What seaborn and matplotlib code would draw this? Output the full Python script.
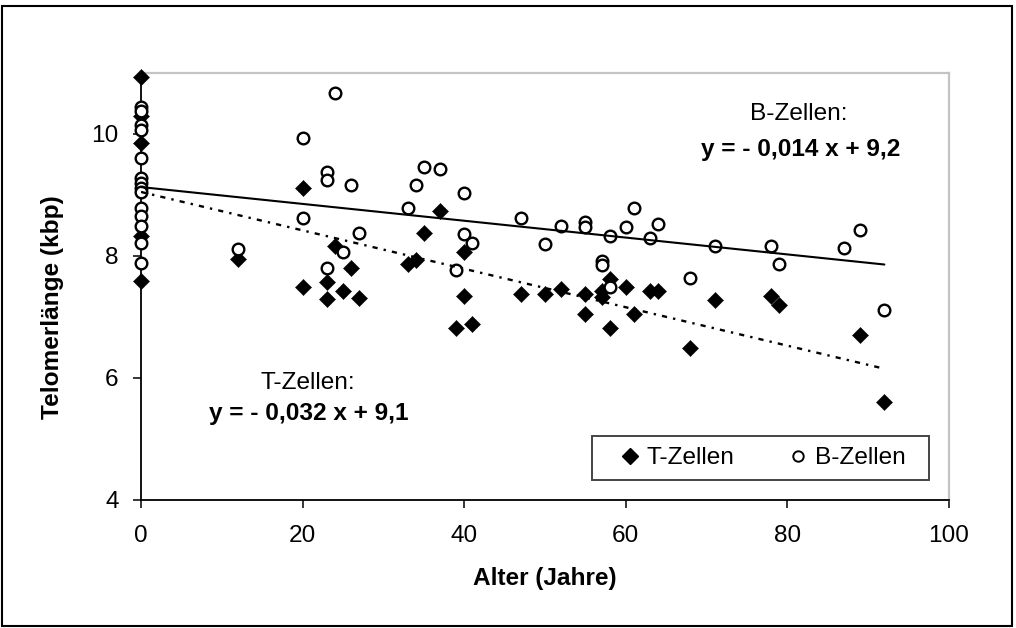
import numpy as np
import pandas as pd
import matplotlib
matplotlib.use("Agg")
import matplotlib.pyplot as plt
import seaborn as sns
from matplotlib.lines import Line2D
from matplotlib.patches import Rectangle

# ---------------- data ----------------
t_age = [0, 0, 0, 0, 0, 12, 20, 20, 23, 23, 24, 25, 26, 27, 33, 34, 35, 37, 39,
         40, 40, 41, 47, 50, 52, 55, 55, 57, 57, 58, 58, 60, 61, 63, 64, 68, 71,
         78, 79, 89, 92]
t_len = [10.93, 10.29, 9.85, 8.33, 7.59, 7.95, 9.11, 7.50, 7.58, 7.29, 8.17, 7.43,
         7.80, 7.31, 7.87, 7.93, 8.38, 8.74, 6.82, 8.06, 7.34, 6.88, 7.37, 7.37,
         7.46, 7.37, 7.05, 7.42, 7.33, 7.62, 6.82, 7.50, 7.05, 7.43, 7.43, 6.50,
         7.28, 7.34, 7.20, 6.71, 5.61]

b_age = [0, 0, 0, 0, 0, 0, 0, 0, 0, 0, 0, 0, 0, 0, 12, 20, 20, 23, 23, 23, 24, 25,
         26, 27, 33, 34, 35, 37, 39, 40, 40, 41, 47, 50, 52, 55, 55, 57, 57, 58,
         58, 60, 61, 63, 64, 68, 71, 78, 79, 87, 89, 92]
b_len = [10.44, 10.37, 10.15, 10.07, 9.60, 9.28, 9.20, 9.12, 9.05, 8.79, 8.66,
         8.49, 8.22, 7.89, 8.11, 9.93, 8.63, 9.38, 9.25, 7.80, 10.68, 8.06, 9.17,
         8.38, 8.78, 9.17, 9.46, 9.43, 7.77, 9.04, 8.36, 8.22, 8.62, 8.19, 8.49,
         8.55, 8.47, 7.91, 7.86, 8.33, 7.50, 8.47, 8.79, 8.29, 8.52, 7.64, 8.17,
         8.17, 7.87, 8.13, 8.42, 7.12]

series_labels = ["T-Zellen", "B-Zellen"]
trend_intercepts = [9.05, 9.13]      # T, B
trend_slopes = [-0.0315, -0.0138]    # T, B
trend_titles = ["T-Zellen:", "B-Zellen:"]
trend_equations = ["y = - 0,032 x + 9,1", "y = - 0,014 x + 9,2"]

x_ticks = [0, 20, 40, 60, 80, 100]
y_ticks = [4, 6, 8, 10]
x_label = "Alter (Jahre)"
y_label = "Telomerlänge (kbp)"

# ---------------- style ----------------
sns.set_theme(style="white")
plt.rcParams["font.family"] = ["Liberation Sans", "DejaVu Sans"]
plt.rcParams["text.color"] = "black"
plt.rcParams["axes.labelcolor"] = "black"

FS = 17.6
W, H = 1016, 628
fig = plt.figure(figsize=(W / 100, H / 100), dpi=100)
fig.patch.set_facecolor("white")
ax_l, ax_r, ax_t, ax_b = 141, 949, 73, 500
ax = fig.add_axes([ax_l / W, 1 - ax_b / H, (ax_r - ax_l) / W, (ax_b - ax_t) / H])
ax.set_facecolor("white")

df_t = pd.DataFrame({"Alter": t_age, "Laenge": t_len})
df_b = pd.DataFrame({"Alter": b_age, "Laenge": b_len})

sns.scatterplot(data=df_t, x="Alter", y="Laenge", marker="D", s=68, color="black",
                edgecolor="black", linewidth=0.3, ax=ax, zorder=3, clip_on=False,
                legend=False)
sns.scatterplot(data=df_b, x="Alter", y="Laenge", marker="o", s=70, color="white",
                edgecolor="black", linewidth=1.7, ax=ax, zorder=4, clip_on=False,
                legend=False)

x_end = max(max(t_age), max(b_age))
x_fit = np.array([0.0, float(x_end)])
styles = [dict(linestyle=(0, (2.2, 2.6, 1.0, 2.6)), linewidth=1.7),
          dict(linestyle="-", linewidth=1.5)]
for b0, b1, st in zip(trend_intercepts, trend_slopes, styles):
    sns.lineplot(x=x_fit, y=b0 + b1 * x_fit, color="black", ax=ax, zorder=5, **st)

ax.set_xlim(0, 100)
ax.set_ylim(4, 11)
ax.set_xticks(x_ticks)
ax.set_yticks(y_ticks)
ax.tick_params(axis="both", which="major", direction="out", length=6, width=1.1,
               color="black", labelsize=FS, labelcolor="black", bottom=True, left=True)
ax.tick_params(axis="x", pad=12)
ax.tick_params(axis="y", pad=10)

for side in ["left", "bottom"]:
    ax.spines[side].set_color("black")
    ax.spines[side].set_linewidth(1.3)
for side in ["top", "right"]:
    ax.spines[side].set_color("#c4c4c4")
    ax.spines[side].set_linewidth(1.6)

ax.set_xlabel(x_label, fontsize=FS, fontweight="bold", color="black")
ax.set_ylabel(y_label, fontsize=FS, fontweight="bold", color="black")
ax.xaxis.set_label_coords(0.5, -0.158)
ax.yaxis.set_label_coords(-0.095, 0.452)

# trend annotations
ax.text(20.6, 5.91, trend_titles[0], ha="center", va="center", fontsize=FS)
ax.text(20.7, 5.41, trend_equations[0], ha="center", va="center", fontsize=FS,
        fontweight="bold")
ax.text(81.4, 10.32, trend_titles[1], ha="center", va="center", fontsize=FS)
ax.text(81.7, 9.74, trend_equations[1], ha="center", va="center", fontsize=FS,
        fontweight="bold")

# legend (frame drawn separately)
handles = [Line2D([], [], linestyle="none", marker="D", markersize=8,
                  markerfacecolor="black", markeredgecolor="black"),
           Line2D([], [], linestyle="none", marker="o", markersize=7.5,
                  markerfacecolor="white", markeredgecolor="black",
                  markeredgewidth=1.4)]
aw, ah = (ax_r - ax_l), (ax_b - ax_t)
leg = ax.legend(handles, series_labels, loc="center left",
                bbox_to_anchor=((620 - ax_l) / aw, (ax_b - 458) / ah),
                ncol=2, frameon=False, fontsize=FS,
                handletextpad=0.3, handlelength=0.8, borderpad=0,
                columnspacing=2.2, borderaxespad=0)
leg.set_zorder(7)
ax.add_patch(Rectangle(((592 - ax_l) / aw, (ax_b - 480) / ah),
                       (929 - 592) / aw, (480 - 436) / ah,
                       transform=ax.transAxes, facecolor="white",
                       edgecolor="#444444", linewidth=1.4, zorder=6,
                       clip_on=False))

# outer chart border
fig.patches.append(Rectangle((2 / W, 2 / H), 1010 / W, 620 / H,
                             transform=fig.transFigure, fill=False,
                             edgecolor="black", linewidth=1.5, zorder=0))

fig.savefig("out.png", dpi=100, facecolor="white")
